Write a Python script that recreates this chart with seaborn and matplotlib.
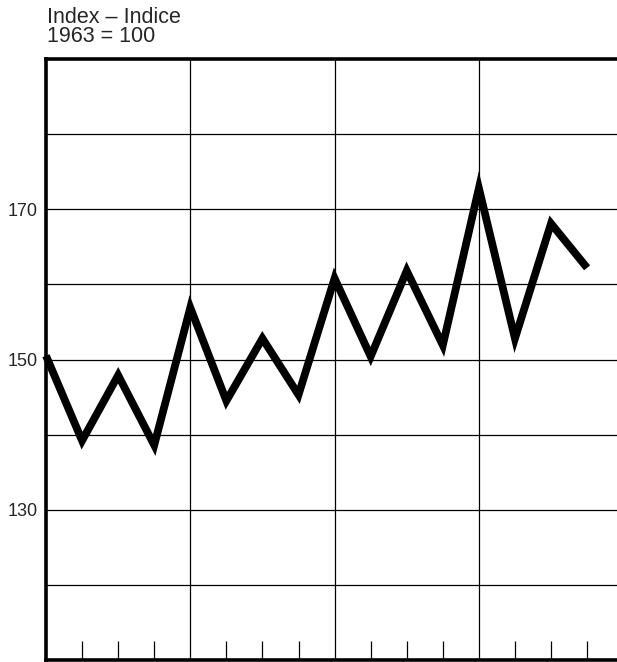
import matplotlib
matplotlib.use("Agg")
import matplotlib.pyplot as plt
import seaborn as sns
import pandas as pd

# quarterly index values, 1963 = 100
quarters = list(range(16))
index_values = [150.5, 139.2, 147.9, 138.6, 156.9, 144.5, 152.8, 145.3,
                160.8, 150.4, 161.8, 151.9, 172.8, 152.8, 168.1, 162.2]
y_ticks = [130, 150, 170]

df = pd.DataFrame({"quarter": quarters, "index": index_values})

sns.set_style("white")
plt.rcParams["font.family"] = ["Liberation Sans", "DejaVu Sans"]

fig = plt.figure(figsize=(6.17, 6.62), dpi=100)
ax = fig.add_axes([46 / 617, 2 / 662, 1 - 46 / 617 + 0.01, (660 - 59) / 662])

sns.lineplot(data=df, x="quarter", y="index", ax=ax, color="black",
             linewidth=5.6, solid_joinstyle="miter", solid_capstyle="butt",
             clip_on=False, zorder=5)

ax.set_xlim(0, 16)
ax.set_ylim(110, 190)

# horizontal grid every 10 points
for yv in range(120, 190, 10):
    ax.axhline(yv, color="black", linewidth=0.9, zorder=1)
# vertical grid at year boundaries
for xv in [4, 8, 12, 16]:
    ax.axvline(xv, color="black", linewidth=0.9, zorder=1)

ax.set_yticks(y_ticks)
ax.set_yticklabels([str(v) for v in y_ticks], fontsize=13)
ax.tick_params(axis="y", length=0, pad=6)

# quarter ticks pointing up from the bottom axis
ax.set_xticks([])
ax.set_xticks([q for q in range(1, 16) if q % 4 != 0], minor=True)
ax.tick_params(axis="x", which="minor", bottom=True, direction="in",
               length=14, width=0.9, color="black", labelbottom=False)

ax.set_xlabel("")
ax.set_ylabel("")

for side in ["left", "bottom", "top"]:
    ax.spines[side].set_color("black")
    ax.spines[side].set_linewidth(2.6)
ax.spines["right"].set_visible(False)

fig.text(47 / 617, 1 - 7 / 662, "Index \u2013 Indice\n1963 = 100",
         ha="left", va="top", fontsize=15.5, linespacing=0.9)

fig.savefig("out.png", dpi=100)
